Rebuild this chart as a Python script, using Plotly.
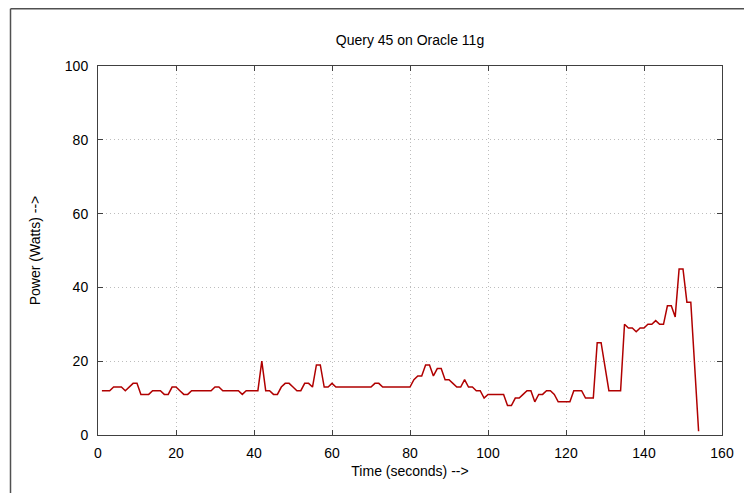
import plotly.graph_objects as go

time_s = [1, 2, 3, 4, 5, 6, 7, 8, 9, 10, 11, 12, 13, 14, 15, 16, 17, 18, 19, 20,
          21, 22, 23, 24, 25, 26, 27, 28, 29, 30, 31, 32, 33, 34, 35, 36, 37, 38, 39, 40,
          41, 42, 43, 44, 45, 46, 47, 48, 49, 50, 51, 52, 53, 54, 55, 56, 57, 58, 59, 60,
          61, 62, 63, 64, 65, 66, 67, 68, 69, 70, 71, 72, 73, 74, 75, 76, 77, 78, 79, 80,
          81, 82, 83, 84, 85, 86, 87, 88, 89, 90, 91, 92, 93, 94, 95, 96, 97, 98, 99, 100,
          101, 102, 103, 104, 105, 106, 107, 108, 109, 110, 111, 112, 113, 114, 115, 116, 117, 118, 119, 120,
          121, 122, 123, 124, 125, 126, 127, 128, 129, 131, 132, 133, 134, 135, 136, 137, 138, 139, 140,
          141, 142, 143, 144, 145, 146, 147, 148, 149, 150, 151, 152, 154]
power_w = [12, 12, 12, 13, 13, 13, 12, 13, 14, 14, 11, 11, 11, 12, 12, 12, 11, 11, 13, 13,
           12, 11, 11, 12, 12, 12, 12, 12, 12, 13, 13, 12, 12, 12, 12, 12, 11, 12, 12, 12,
           12, 20, 12, 12, 11, 11, 13, 14, 14, 13, 12, 12, 14, 14, 13, 19, 19, 13, 13, 14,
           13, 13, 13, 13, 13, 13, 13, 13, 13, 13, 14, 14, 13, 13, 13, 13, 13, 13, 13, 13,
           15, 16, 16, 19, 19, 16, 18, 18, 15, 15, 14, 13, 13, 15, 13, 13, 12, 12, 10, 11,
           11, 11, 11, 11, 8, 8, 10, 10, 11, 12, 12, 9, 11, 11, 12, 12, 11, 9, 9, 9,
           9, 12, 12, 12, 10, 10, 10, 25, 25, 12, 12, 12, 12, 30, 29, 29, 28, 29, 29,
           30, 30, 31, 30, 30, 35, 35, 32, 45, 45, 36, 36, 1]

x_ticks = [0, 20, 40, 60, 80, 100, 120, 140, 160]
y_ticks = [0, 20, 40, 60, 80, 100]

# full-window figure; the page body margin is removed in post_script
W, H = 744, 493
L, R, T, B = 98, 22, 66, 58
pw, ph = W - L - R, H - T - B

fig = go.Figure()
fig.add_trace(go.Scatter(x=time_s, y=power_w, mode="lines",
                         line=dict(color="#b00000", width=1.5), showlegend=False))

axis_common = dict(
    showline=True, linecolor="#404040", linewidth=1, mirror="ticks",
    ticks="inside", ticklen=5, tickcolor="#404040",
    showgrid=True, gridcolor="#bdbdbd", griddash="1px,3px", gridwidth=1,
    zeroline=False, tickfont=dict(size=14, color="black"), automargin=False,
)

fig.update_xaxes(range=[0, 160], tickvals=x_ticks, ticklabelstandoff=5, **axis_common,
                 title=dict(text="Time (seconds) -->", font=dict(size=14, color="black"), standoff=6))
fig.update_yaxes(range=[0, 100], tickvals=y_ticks, ticklabelstandoff=6, **axis_common,
                 title=dict(text="Power (Watts) -->", font=dict(size=14, color="black"), standoff=20))

# outer frame (top and left edges)
fx = (10.5 - L) / pw
fy = 1 + (T - 8.75) / ph
fig.add_shape(type="line", xref="paper", yref="paper", x0=fx, x1=fx, y0=-0.3, y1=fy,
              line=dict(color="#505050", width=1.5))
fig.add_shape(type="line", xref="paper", yref="paper", x0=fx, x1=1.2, y0=fy, y1=fy,
              line=dict(color="#505050", width=1.5))

fig.update_layout(
    width=W, height=H,
    margin=dict(l=L, r=R, t=T, b=B, autoexpand=False),
    paper_bgcolor="white", plot_bgcolor="white",
    font=dict(family="Liberation Sans, Arial, sans-serif", size=14, color="black"),
    title=dict(text="Query 45 on Oracle 11g", x=(L + pw / 2) / W, xanchor="center",
               y=1 - 40 / H, yanchor="middle", font=dict(size=14, color="black")),
)

fig.write_html(
    "out.html",
    config={"displayModeBar": False},
    post_script="document.body.style.margin='0';document.body.style.overflow='hidden';",
)
